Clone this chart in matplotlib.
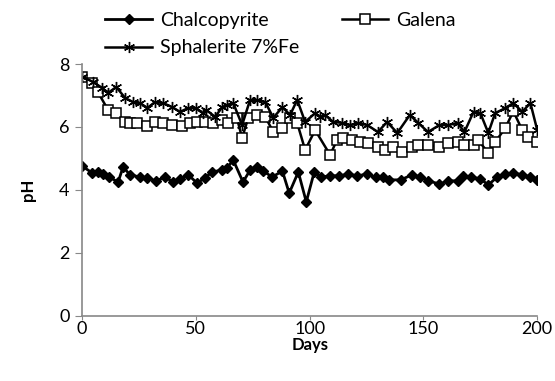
import matplotlib
matplotlib.use('Agg')
import matplotlib.pyplot as plt

plt.rcParams['font.family'] = ['Lato', 'DejaVu Sans']

# Chalcopyrite
chal_days = [0, 4.4, 7, 9.2, 11.9, 15.8, 18, 21, 25.5, 28.6, 32.5, 36.5, 40, 43, 46.6,
             50.5, 54, 57, 61.5, 63.7, 66.4, 70.7, 73.8, 77, 79.6, 83.5, 88, 91, 95,
             98.5, 102, 105, 109, 113, 117, 121, 125, 129, 132, 135, 140, 145, 148.6,
             152, 157, 161, 165, 167.5, 171, 175, 178.5, 182.4, 186, 189.5, 193.4, 197, 200]
chal_ph = [4.76, 4.54, 4.57, 4.5, 4.41, 4.25, 4.73, 4.48, 4.41, 4.38, 4.29, 4.41, 4.25, 4.35, 4.48,
           4.22, 4.38, 4.57, 4.63, 4.7, 4.95, 4.25, 4.63, 4.73, 4.6, 4.41, 4.6, 3.9, 4.57,
           3.62, 4.57, 4.41, 4.45, 4.45, 4.5, 4.45, 4.5, 4.4, 4.4, 4.32, 4.32, 4.48, 4.41,
           4.29, 4.19, 4.29, 4.29, 4.44, 4.41, 4.35, 4.16, 4.41, 4.51, 4.54, 4.48, 4.41, 4.32]

# Galena
gal_days = [0, 4.4, 7, 11.4, 15, 18.9, 21, 24, 28.6, 32, 35.6, 39.6, 44, 47.5, 50.5, 54,
            57.6, 61.5, 64, 68, 70.3, 73, 77, 80.5, 84, 88, 91.4, 94.5, 98, 102.4, 109,
            112, 114.7, 118.7, 122, 125.7, 130, 133, 136.7, 140.7, 145, 147.7, 152, 157,
            161, 165, 168, 172, 174, 178.5, 181.5, 186, 189.5, 193.4, 196, 200]
gal_ph = [7.59, 7.4, 7.1, 6.54, 6.44, 6.16, 6.13, 6.13, 6.03, 6.16, 6.13, 6.06, 6.03, 6.13, 6.16, 6.16,
          6.13, 6.22, 6.13, 6.29, 5.65, 6.29, 6.38, 6.32, 5.84, 5.97, 6.29, 6.13, 5.27, 5.9, 5.11,
          5.59, 5.65, 5.59, 5.52, 5.49, 5.37, 5.27, 5.37, 5.21, 5.37, 5.43, 5.43, 5.37,
          5.49, 5.52, 5.43, 5.43, 5.59, 5.17, 5.52, 5.97, 6.5, 5.9, 5.68, 5.52]

# Sphalerite 7%Fe
sph_days = [0, 4.8, 8.8, 11.4, 15, 18.9, 22.4, 25.5, 28.6, 32, 35.6, 39.6, 43, 46.6, 50,
            53, 54.5, 58.5, 61.5, 63.7, 66.4, 70.3, 73.8, 77, 80.5, 84, 88, 91.4, 94.5,
            98, 102.4, 104.6, 106.8, 110.3, 114.3, 117.8, 121.3, 125.3, 130, 134, 138.5,
            144, 147.7, 152, 157, 161, 165, 168, 172, 175, 178.5, 181.5, 186, 189.5,
            193.4, 197, 200]
sph_ph = [7.6, 7.43, 7.24, 7.08, 7.27, 6.92, 6.79, 6.76, 6.6, 6.79, 6.76, 6.63, 6.48, 6.6, 6.6,
          6.44, 6.54, 6.32, 6.63, 6.7, 6.76, 6.06, 6.86, 6.86, 6.79, 6.29, 6.63, 6.38, 6.86,
          6.16, 6.44, 6.32, 6.38, 6.16, 6.13, 6.06, 6.13, 6.06, 5.84, 6.16, 5.81,
          6.38, 6.13, 5.84, 6.06, 6.06, 6.13, 5.84, 6.48, 6.44, 5.81, 6.44, 6.6, 6.76,
          6.48, 6.76, 5.9]

fig = plt.figure(figsize=(5.55, 3.81), dpi=100)
ax = fig.add_axes([0.148, 0.171, 0.82, 0.661])

l1, = ax.plot(chal_days, chal_ph, color='black', lw=2, marker='D', ms=5,
              mfc='black', mec='black', label='Chalcopyrite')
l2, = ax.plot(gal_days, gal_ph, color='black', lw=1.8, marker='s', ms=7,
              mfc='white', mec='black', mew=1.1, label='Galena')
l3, = ax.plot(sph_days, sph_ph, color='black', lw=1.8, marker=(6, 2, 0), ms=8,
              mec='black', mew=1.0, label='Sphalerite 7%Fe')

ax.set_xlim(0, 200)
ax.set_ylim(0, 8)
ax.set_xticks([0, 50, 100, 150, 200])
ax.set_yticks([0, 2, 4, 6, 8])
ax.spines['top'].set_visible(False)
ax.spines['right'].set_visible(False)
ax.spines['left'].set_color('#888888')
ax.spines['bottom'].set_color('#888888')
ax.spines['left'].set_linewidth(1.2)
ax.spines['bottom'].set_linewidth(1.2)
ax.tick_params(axis='both', direction='out', color='#888888', labelsize=13)
ax.tick_params(axis='y', length=5, pad=4)
ax.tick_params(axis='x', length=3, pad=1)
ax.set_xlabel('Days', fontsize=12, fontweight='bold', labelpad=0)
ax.set_ylabel('pH', fontsize=12, fontweight='bold', labelpad=17)

fig.legend([l1, l3, l2], ['Chalcopyrite', 'Sphalerite 7%Fe', 'Galena'],
           loc='upper left', bbox_to_anchor=(0.158, 1.015), ncol=2, frameon=False,
           fontsize=14, handlelength=2.4, columnspacing=2.2, handletextpad=0.4,
           labelspacing=0.55)

fig.savefig('out.png', dpi=100)
